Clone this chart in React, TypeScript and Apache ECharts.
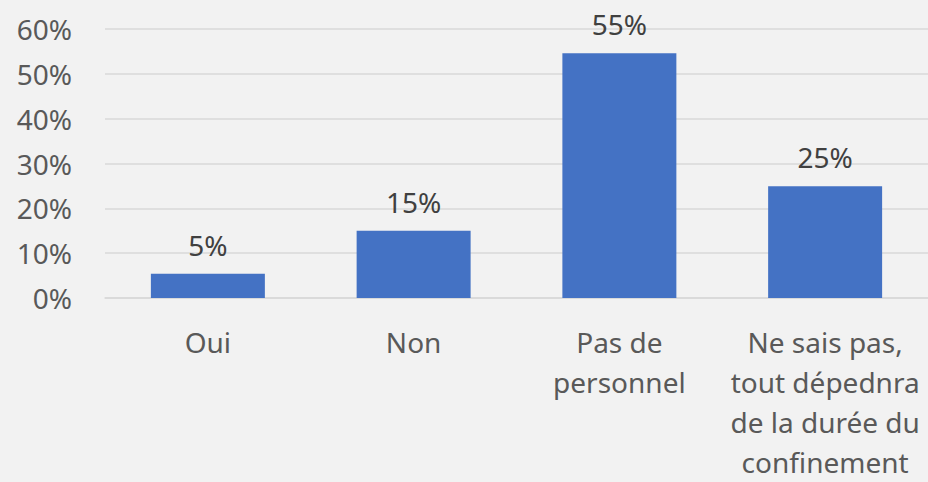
import React, { useEffect, useRef } from "react";
import * as echarts from "echarts";

const categories = [
  "Oui",
  "Non",
  "Pas de\npersonnel",
  "Ne sais pas,\ntout dépednra\nde la durée du\nconfinement",
];
const values = [5.4, 15, 54.6, 24.9];
const yTicks = [0, 10, 20, 30, 40, 50, 60];

const FONT = "Noto Sans";
const TEXT = "#595959";

export default function App() {
  const ref = useRef<HTMLDivElement>(null);
  useEffect(() => {
    document.body.style.margin = "0";
    const chart = echarts.init(ref.current!, undefined, { renderer: "svg" });
    chart.setOption({
      animation: false,
      backgroundColor: "#f2f2f2",
      grid: { left: 105, right: 0, top: 29, bottom: 183, containLabel: false },
      xAxis: {
        type: "category",
        data: categories,
        axisLine: { show: true, lineStyle: { color: "#d9d9d9", width: 1.5 } },
        axisTick: { show: false },
        axisLabel: {
          color: TEXT,
          fontFamily: FONT,
          fontSize: 28,
          lineHeight: 40,
          margin: 24,
          interval: 0,
        },
      },
      yAxis: {
        type: "value",
        min: yTicks[0],
        max: yTicks[yTicks.length - 1],
        interval: 10,
        axisLine: { show: false },
        axisTick: { show: false },
        splitLine: { lineStyle: { color: "#d9d9d9", width: 1.5 } },
        axisLabel: {
          color: TEXT,
          fontFamily: FONT,
          fontSize: 28,
          margin: 33,
          formatter: (v: number) => v + "%",
        },
      },
      series: [
        {
          type: "bar",
          data: values,
          barWidth: "55.4%",
          itemStyle: { color: "#4472c4" },
          label: {
            show: true,
            position: "top",
            distance: 15,
            color: "#404040",
            fontFamily: FONT,
            fontSize: 28,
            formatter: (p: any) => Math.round(p.value) + "%",
          },
        },
      ],
    });
    return () => chart.dispose();
  }, []);
  return <div ref={ref} style={{ width: 928, height: 482 }} />;
}
